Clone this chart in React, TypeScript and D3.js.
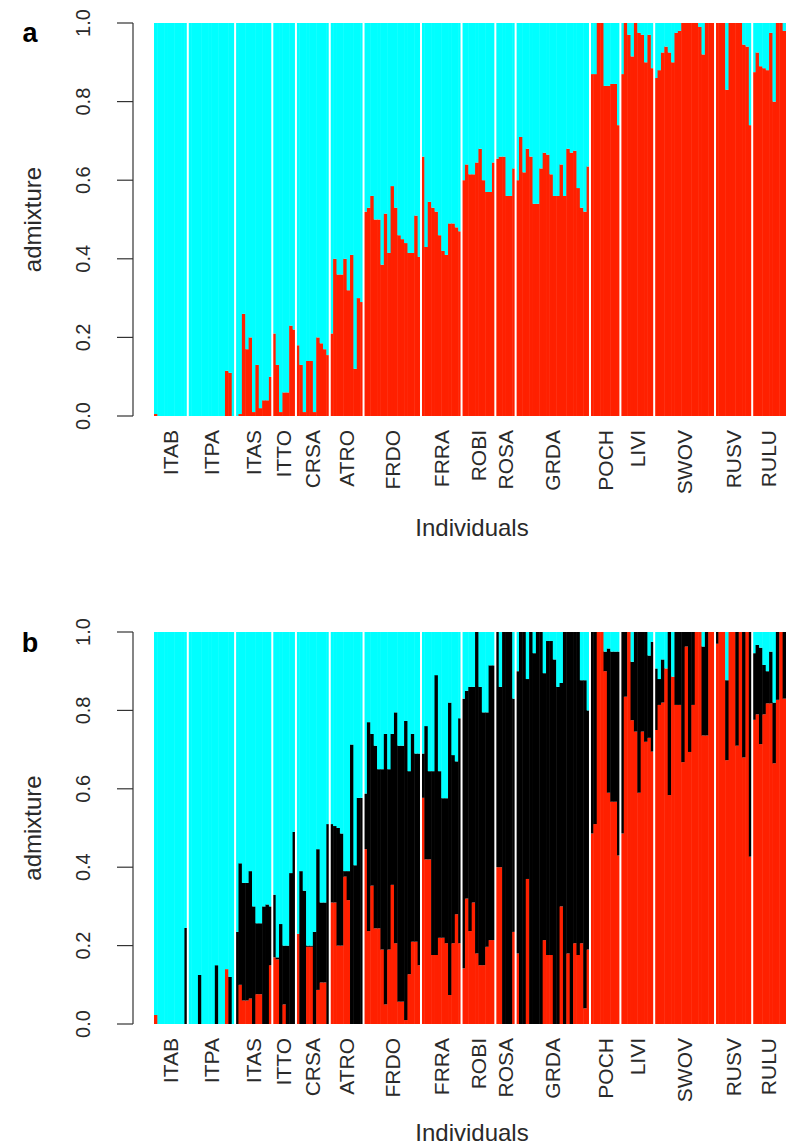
import React from "react";
import * as d3 from "d3";

// ---------- data ----------
const populations = ["ITAB","ITPA","ITAS","ITTO","CRSA","ATRO","FRDO","FRRA","ROBI","ROSA","GRDA","POCH","LIVI","SWOV","RUSV","RULU"];
const popSizes = [10,14,11,7,10,10,17,12,10,6,22,9,10,18,11,10];
const yTicks = [0, 0.2, 0.4, 0.6, 0.8, 1.0];
const yTickLabels = ["0.0","0.2","0.4","0.6","0.8","1.0"];

// Panel a (K = 2): membership of the red cluster (rest is cyan)
const k2Red = [
  0.005,0,0,0,0,0,0,0,0,0,                                   // ITAB
  0,0,0,0,0,0,0,0,0,0,0,0.115,0.11,0,                         // ITPA
  0,0.005,0.26,0.17,0.2,0.01,0.13,0.02,0.04,0.04,0.1,         // ITAS
  0.21,0.13,0.01,0.06,0.06,0.23,0.22,                         // ITTO
  0.18,0.13,0.01,0.14,0.14,0.01,0.2,0.185,0.17,0.155,         // CRSA
  0.21,0.4,0.36,0.36,0.4,0.32,0.41,0.12,0.3,0.29,             // ATRO
  0.52,0.53,0.56,0.5,0.5,0.385,0.515,0.415,0.585,0.53,0.46,0.45,0.44,0.415,0.415,0.51,0.405, // FRDO
  0.66,0.43,0.545,0.53,0.52,0.46,0.42,0.41,0.49,0.49,0.48,0.47, // FRRA
  0.6,0.64,0.615,0.615,0.645,0.68,0.6,0.57,0.57,0.645,        // ROBI
  0.655,0.66,0.66,0.56,0.56,0.63,                             // ROSA
  0.6,0.71,0.62,0.68,0.66,0.54,0.54,0.63,0.67,0.665,0.615,0.56,0.56,0.64,0.56,0.68,0.67,0.675,0.58,0.53,0.52,0.635, // GRDA
  0.87,0.87,1,1,0.84,0.84,0.845,0.845,0.74,                   // POCH
  0.87,1,0.97,0.915,1,0.975,0.97,0.9,0.97,0.885,              // LIVI
  0.86,0.88,0.925,0.94,0.925,0.9,0.975,0.98,1,1,1,1,1,0.99,0.92,1,1,1, // SWOV
  1,1,1,0.83,1,1,1,1,0.945,0.94,0.74,                         // RUSV
  0.875,0.925,0.89,0.885,0.88,0.975,0.8,1,1,0.98              // RULU
];

// Panel b (K = 3): red and black cluster memberships (rest is cyan)
const k3Red = [
  0.023,0,0,0,0,0,0,0,0,0,                                    // ITAB
  0,0,0,0,0,0,0,0,0,0,0,0.14,0,0,                             // ITPA
  0,0.1,0.06,0.06,0.065,0,0.076,0.076,0,0,0.15,               // ITAS
  0.17,0.165,0,0.05,0,0,0,                                    // ITTO
  0.23,0,0,0.197,0.197,0,0.087,0.106,0.106,0,                 // CRSA
  0.31,0.31,0.2,0.2,0.376,0.316,0,0,0,0,                      // ATRO
  0.446,0.237,0.353,0.244,0.244,0.19,0.05,0.19,0.355,0.206,0.057,0.057,0.01,0.127,0.21,0.21,0.15, // FRDO
  0.577,0.42,0.42,0.176,0.176,0.22,0.22,0.206,0.074,0.206,0.28,0.206, // FRRA
  0.142,0.32,0.237,0.31,0.18,0.15,0.15,0.197,0.214,0.214,     // ROBI
  0.4,0.4,0,0,0,0.235,                                        // ROSA
  0.18,0,0,0.37,0,0,0,0,0.214,0.176,0.176,0,0,0.3,0,0.18,0,0.206,0.176,0.206,0.04,0.19, // GRDA
  0.486,0.51,1,1,0.9,0.59,0.567,0.567,0.43,                   // POCH
  0.486,0.835,1,0.775,0.746,0.59,0.746,0.72,0.73,0.695,       // LIVI
  0.75,0.814,0.82,0.907,0.584,0.886,0.814,0.814,0.668,0.963,0.694,0.814,1,1,0.736,0.736,1,1, // SWOV
  0.97,1,1,0.673,1,1,0.71,1,0.68,1,0.427,                     // RUSV
  0.776,0.79,0.714,0.79,0.818,0.818,0.665,0.827,1,0.83        // RULU
];
const k3Black = [
  0,0,0,0,0,0,0,0,0,0.245,                                    // ITAB
  0,0,0,0.125,0,0,0,0,0.15,0,0,0,0.12,0,                      // ITPA
  0.235,0.31,0.3,0.3,0.325,0.3,0.181,0.181,0.3,0.305,0.15,    // ITAS
  0.16,0.005,0.255,0.15,0.2,0.385,0.49,                       // ITTO
  0,0.39,0.34,0.003,0.003,0.235,0.359,0.204,0.204,0.51,       // CRSA
  0.2,0.195,0.3,0.286,0.014,0.074,0.713,0.405,0.577,0.577,    // ATRO
  0.142,0.533,0.387,0.466,0.406,0.46,0.69,0.46,0.385,0.589,0.653,0.653,0.763,0.518,0.53,0.48,0.54, // FRDO
  0.113,0.34,0.225,0.469,0.714,0.425,0.356,0.37,0.746,0.48,0.39,0.574, // FRRA
  0.688,0.53,0.623,0.55,0.82,0.71,0.645,0.598,0.701,0.701,    // ROBI
  0.6,0.46,1,1,1,0.595,                                       // ROSA
  0.72,1,1,0.51,1,0.946,1,1,0.681,0.801,0.801,0.93,0.86,0.57,1,0.82,1,0.794,0.824,0.671,0.837,0.61, // GRDA
  0.514,0.49,0,0,0.05,0.368,0.383,0.383,0.52,                 // POCH
  0.514,0.165,0,0.149,0.254,0.41,0.254,0.28,0.21,0.28,        // LIVI
  0.157,0.066,0.11,0,0.416,0,0.186,0.186,0.332,0.037,0.306,0.186,0,0,0.227,0.264,0,0, // SWOV
  0.03,0,0,0.204,0,0,0.29,0,0.32,0,0.573,                     // RUSV
  0.17,0.177,0.246,0.126,0.082,0.132,0.155,0.173,0,0.17       // RULU
];

// ---------- styling / layout ----------
const W = 786, H = 1147;
const COLORS: Record<string, string> = { red: "#ff2000", black: "#000000", cyan: "#00ffff" };
const FONT = "'Liberation Sans', Arial, Helvetica, sans-serif";
const TEXT = "#2a2a2a";
const plotLeft = 154, plotRight = 786;
const axisX = 133;

const N = d3.sum(popSizes);
const starts = popSizes.map((_, i) => d3.sum(popSizes.slice(0, i)));

type Row = Record<string, number>;

function Panel({ letter, top, bottom, rows, keys, titleOffset }: { letter: string; top: number; bottom: number; rows: Row[]; keys: string[]; titleOffset: number }) {
  const x = d3.scaleBand<number>().domain(d3.range(N)).range([plotLeft, plotRight]).padding(0);
  const y = d3.scaleLinear().domain([0, 1]).range([bottom, top]);
  const series = d3.stack<Row>().keys(keys)(rows);
  const bw = x.bandwidth();
  const midY = (top + bottom) / 2;

  return (
    <g>
      {/* bars, one group per individual */}
      {d3.range(N).map((i) => (
        <g key={i}>
          {series.map((s) => {
            const d = s[i];
            const h = y(d[0]) - y(d[1]);
            if (h <= 0) return null;
            return (
              <rect key={s.key} x={x(i)!} y={y(d[1])} width={bw + 0.45} height={h} fill={COLORS[s.key]} />
            );
          })}
        </g>
      ))}
      {/* population separators */}
      {starts.slice(1).map((s, g) => (
        <line key={g} x1={x(s)!} x2={x(s)!} y1={y(1)} y2={y(0)} stroke="#ffffff" strokeWidth={2} />
      ))}
      {/* y axis */}
      <line x1={axisX} x2={axisX} y1={y(0)} y2={y(1)} stroke="#333" strokeWidth={1.2} />
      {yTicks.map((t, k) => (
        <g key={k}>
          <line x1={axisX - 16} x2={axisX} y1={y(t)} y2={y(t)} stroke="#333" strokeWidth={1.2} />
          <text
            transform={`translate(${axisX - 50},${y(t)}) rotate(-90)`}
            textAnchor="middle"
            dy="0.35em"
            fontFamily={FONT}
            fontSize={20}
            fill={TEXT}
          >
            {yTickLabels[k]}
          </text>
        </g>
      ))}
      <text
        transform={`translate(33,${midY}) rotate(-90)`}
        textAnchor="middle"
        dy="0.35em"
        fontFamily={FONT}
        fontSize={24}
        fill={TEXT}
      >
        admixture
      </text>
      {/* population labels */}
      {populations.map((p, g) => {
        const cx = (x(starts[g])! + x(starts[g] + popSizes[g] - 1)! + bw) / 2;
        return (
          <text
            key={p}
            transform={`translate(${cx},${bottom + 14}) rotate(-90)`}
            textAnchor="end"
            dy="0.35em"
            fontFamily={FONT}
            fontSize={21}
            fill={TEXT}
          >
            {p}
          </text>
        );
      })}
      <text x={472} y={bottom + titleOffset} textAnchor="middle" fontFamily={FONT} fontSize={24} fill={TEXT}>
        Individuals
      </text>
      {/* panel letter */}
      <text x={30} y={top + (letter === "a" ? 19 : 20)} textAnchor="middle" fontFamily={FONT} fontWeight="bold" fontSize={27} fill="#000">
        {letter}
      </text>
    </g>
  );
}

export default function App() {
  const rowsA: Row[] = k2Red.map((r) => ({ red: r, cyan: Math.max(0, 1 - r) }));
  const rowsB: Row[] = k3Red.map((r, i) => ({ red: r, black: k3Black[i], cyan: Math.max(0, 1 - r - k3Black[i]) }));
  return (
    <div style={{ position: "absolute", left: 0, top: 0, width: W, height: H, background: "#fff" }}>
      <svg width={W} height={H} viewBox={`0 0 ${W} ${H}`} style={{ display: "block" }}>
        <rect width={W} height={H} fill="#fff" />
        <Panel letter="a" top={23} bottom={416} rows={rowsA} keys={["red", "cyan"]} titleOffset={120} />
        <Panel letter="b" top={632} bottom={1024} rows={rowsB} keys={["red", "black", "cyan"]} titleOffset={117} />
      </svg>
    </div>
  );
}
